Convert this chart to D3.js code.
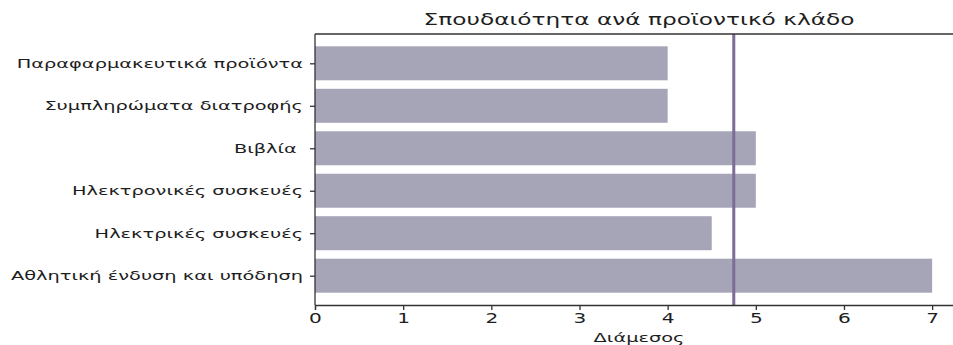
<!DOCTYPE html>
<html>
<head>
<meta charset="utf-8">
<script src="https://cdn.jsdelivr.net/npm/d3@7"></script>
<style>
  html, body { margin: 0; padding: 0; background: #fff; }
  svg { display: block; font-family: "DejaVu Sans", sans-serif; }
</style>
</head>
<body>
<svg id="chart" width="953" height="345"></svg>
<script>
// Product categories, listed bottom to top as drawn on the y axis
const categories = [
  "Αθλητική ένδυση και υπόδηση",
  "Ηλεκτρικές συσκευές",
  "Ηλεκτρονικές συσκευές",
  "Βιβλία ",
  "Συμπληρώματα διατροφής",
  "Παραφαρμακευτικά προϊόντα"
];
// Importance score per category
const importance = [7, 4.5, 5, 5, 4, 4];
const xTicks = [0, 1, 2, 3, 4, 5, 6, 7];
const titleText = "Σπουδαιότητα ανά προϊοντικό κλάδο";
const xLabel = "Διάμεσος";

// Median of the scores, drawn as a vertical reference line
const median = d3.median(importance);

const svg = d3.select("#chart");
const plotLeft = 315, plotTop = 34, plotBottom = 305, plotRight = 963;
// Text is drawn horizontally widened
const stretch = 1.49;

const x = d3.scaleLinear().domain([0, 7.35]).range([plotLeft, plotRight]);
// Band positions follow a 0.8-wide bar with 0.05 padding of the data span
const n = categories.length;
const span = (n - 1) + 0.8;
const pad = 0.05 * span;
const y = d3.scaleLinear()
  .domain([-0.4 - pad, (n - 1) + 0.4 + pad])
  .range([plotBottom, plotTop]);

const barH = y(0) - y(0.8);

// Bars
svg.append("g")
  .selectAll("rect")
  .data(importance)
  .join("rect")
  .attr("x", x(0))
  .attr("y", (d, i) => y(i + 0.4))
  .attr("width", d => x(d) - x(0))
  .attr("height", barH)
  .attr("fill", "#a6a4b7");

// Median line
svg.append("line")
  .attr("x1", x(median)).attr("x2", x(median))
  .attr("y1", plotTop).attr("y2", plotBottom)
  .attr("stroke", "#7d6c98")
  .attr("stroke-width", 3);

// Top spine
svg.append("line")
  .attr("x1", plotLeft).attr("x2", plotRight)
  .attr("y1", plotTop).attr("y2", plotTop)
  .attr("stroke", "#333").attr("stroke-width", 1.3);

// X axis
const xAxis = d3.axisBottom(x).tickValues(xTicks).tickFormat(d3.format("d"))
  .tickSizeOuter(0).tickSize(5).tickPadding(3);
const gx = svg.append("g").attr("transform", `translate(0,${plotBottom})`).call(xAxis);
gx.select(".domain").attr("stroke", "#333").attr("stroke-width", 1.3);
gx.selectAll(".tick line").attr("stroke", "#333").attr("stroke-width", 1.3);
gx.selectAll(".tick text").attr("font-size", 13.5).attr("fill", "#1e1e1e")
  .attr("font-family", "DejaVu Sans, sans-serif")
  .attr("transform", `scale(${stretch},1)`);

// Y axis
const yAxis = d3.axisLeft(y).tickValues(d3.range(n))
  .tickFormat(i => categories[i]).tickSizeOuter(0).tickSize(5).tickPadding(6);
const gy = svg.append("g").attr("transform", `translate(${plotLeft},0)`).call(yAxis);
gy.select(".domain").attr("stroke", "#333").attr("stroke-width", 1.3)
  .attr("d", `M0,${plotTop}V${plotBottom}`);
gy.selectAll(".tick line").attr("stroke", "#333").attr("stroke-width", 1.3);
gy.selectAll(".tick text").attr("font-size", 13).attr("fill", "#1e1e1e")
  .attr("font-family", "DejaVu Sans, sans-serif")
  .style("white-space", "pre")
  .attr("x", -12 / stretch)
  .attr("transform", `scale(${stretch},1)`);

// Title
svg.append("text")
  .attr("transform", `translate(${(plotLeft + plotRight) / 2},25) scale(1.5,1)`)
  .attr("text-anchor", "middle")
  .attr("font-size", 15.5).attr("fill", "#1e1e1e")
  .text(titleText);

// X axis label
svg.append("text")
  .attr("transform", `translate(${(plotLeft + plotRight) / 2},342) scale(${stretch},1)`)
  .attr("text-anchor", "middle")
  .attr("font-size", 13).attr("fill", "#1e1e1e")
  .text(xLabel);
</script>
</body>
</html>
